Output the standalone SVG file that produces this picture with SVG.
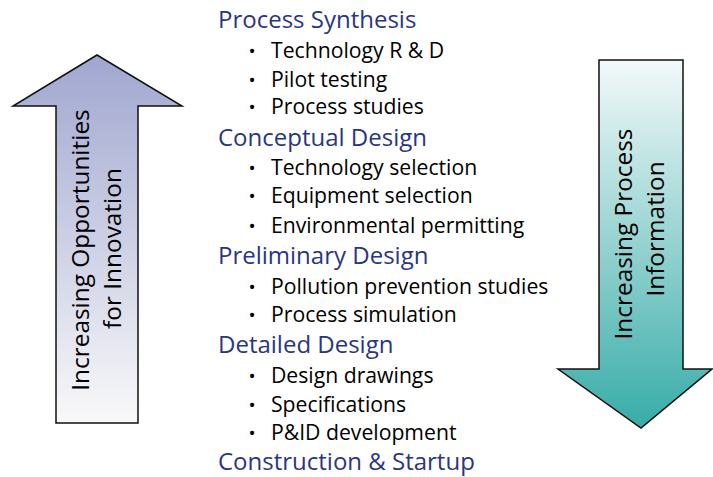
<svg xmlns="http://www.w3.org/2000/svg" width="713" height="477" viewBox="0 0 713 477">
<defs>
<linearGradient id="gUp" x1="0" y1="0" x2="0" y2="1">
<stop offset="0" stop-color="#a0a6d0"/>
<stop offset="1" stop-color="#f9f9f9"/>
</linearGradient>
<linearGradient id="gDown" x1="0" y1="0" x2="0" y2="1">
<stop offset="0" stop-color="#f3f9f9"/>
<stop offset="1" stop-color="#37aca8"/>
</linearGradient>
<style>
.arrow{stroke:#111;stroke-width:1.5;stroke-linejoin:miter}
.h{font-family:"Open Sans","Noto Sans","Liberation Sans",sans-serif;font-size:24px;fill:#2b3585}
.b{font-family:"Open Sans","Noto Sans","Liberation Sans",sans-serif;font-size:21.2px;fill:#000}
.d{font-family:"Open Sans","Noto Sans","Liberation Sans",sans-serif;font-size:19px;fill:#000;text-anchor:middle}
.a{font-family:"Open Sans","Noto Sans","Liberation Sans",sans-serif;font-size:24.4px;fill:#000;text-anchor:middle}
</style>
</defs>
<rect width="713" height="477" fill="#fff"/>
<g id="arrow-innovation">
<path class="arrow" fill="url(#gUp)" d="M97,55 L182,106 L138,106 L138,423 L56,423 L56,106 L13,106 Z"/>
<text class="a" transform="translate(89,250) rotate(-90)">Increasing Opportunities</text>
<text class="a" transform="translate(121,248.5) rotate(-90)">for Innovation</text>
</g>
<g id="arrow-information">
<path class="arrow" fill="url(#gDown)" d="M599,60 L683,60 L683,369 L712,369 L641,428 L558,369 L599,369 Z"/>
<text class="a" transform="translate(632,234) rotate(-90)">Increasing Process</text>
<text class="a" transform="translate(664,229) rotate(-90)">Information</text>
</g>
<g id="stages">
<text class="h" x="218" y="28">Process Synthesis</text>
<text class="d" x="252" y="58">•</text><text class="b" x="271" y="58">Technology R &amp; D</text>
<text class="d" x="252" y="87">•</text><text class="b" x="271" y="87">Pilot testing</text>
<text class="d" x="252" y="114">•</text><text class="b" x="271" y="114">Process studies</text>
<text class="h" x="218" y="146">Conceptual Design</text>
<text class="d" x="252" y="175">•</text><text class="b" x="271" y="175">Technology selection</text>
<text class="d" x="252" y="203">•</text><text class="b" x="271" y="203">Equipment selection</text>
<text class="d" x="252" y="233">•</text><text class="b" x="271" y="233">Environmental permitting</text>
<text class="h" x="218" y="264">Preliminary Design</text>
<text class="d" x="252" y="294">•</text><text class="b" x="271" y="294">Pollution prevention studies</text>
<text class="d" x="252" y="322">•</text><text class="b" x="271" y="322">Process simulation</text>
<text class="h" x="218" y="353">Detailed Design</text>
<text class="d" x="252" y="383">•</text><text class="b" x="271" y="383">Design drawings</text>
<text class="d" x="252" y="412">•</text><text class="b" x="271" y="412">Specifications</text>
<text class="d" x="252" y="440">•</text><text class="b" x="271" y="440">P&amp;ID development</text>
<text class="h" x="218" y="470">Construction &amp; Startup</text>
</g>
</svg>
